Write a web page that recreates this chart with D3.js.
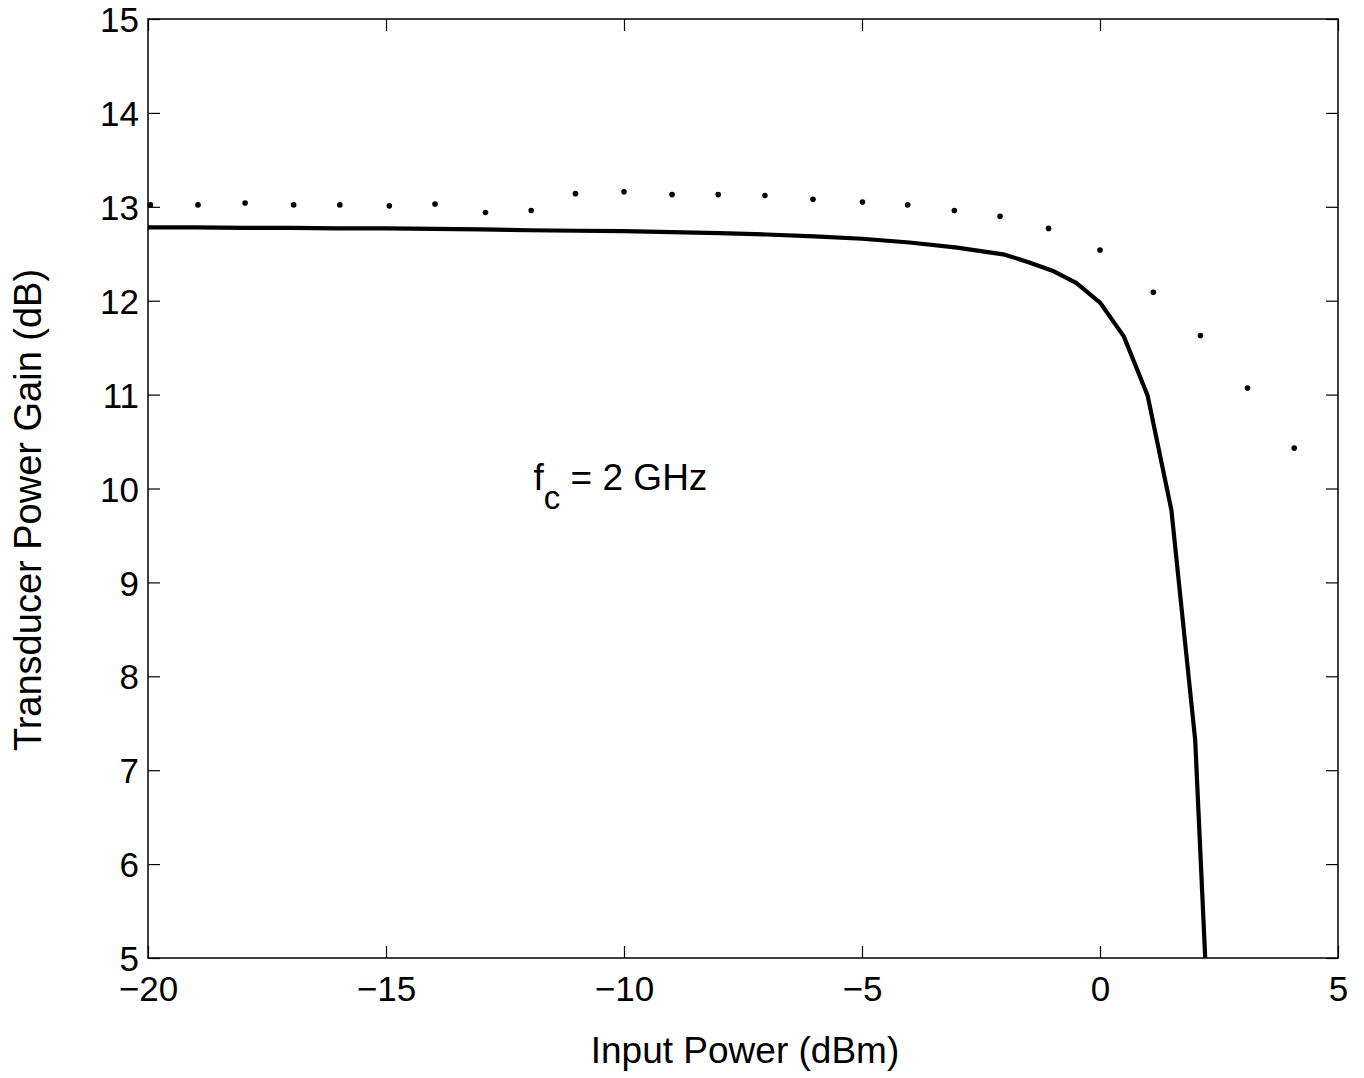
<!DOCTYPE html>
<html>
<head>
<meta charset="utf-8">
<script src="https://cdn.jsdelivr.net/npm/d3@7"></script>
<style>
  body { margin: 0; background: #fff; }
  svg text { font-family: "Liberation Sans", Arial, sans-serif; fill: #000; }
</style>
</head>
<body>
<svg id="chart" width="1364" height="1078"></svg>
<script>
// measured points (dots)
let measuredX = [-19.95, -18.95, -17.96, -16.94, -15.97, -14.93, -13.97, -12.91, -11.95, -11.02,
  -10.0, -8.99, -8.02, -7.04, -6.03, -4.99, -4.04, -3.06, -2.1, -1.08, 0.0, 1.12, 2.11, 3.1, 4.08];
let measuredGain = [13.02, 13.02, 13.04, 13.02, 13.02, 13.01, 13.03, 12.94, 12.96, 13.14,
  13.16, 13.13, 13.13, 13.12, 13.08, 13.05, 13.02, 12.96, 12.9, 12.77, 12.54, 12.09, 11.63, 11.07, 10.43];

// simulated curve (solid)
let simX = [-20, -19, -18, -17, -16, -15, -14, -13, -12, -11, -10, -9, -8, -7, -6, -5, -4, -3, -2,
  -1.5, -1, -0.5, 0, 0.5, 1.0, 1.5, 2.0, 2.5];
let simGain = [12.78, 12.78, 12.775, 12.775, 12.77, 12.77, 12.765, 12.76, 12.75, 12.745, 12.74, 12.73,
  12.72, 12.705, 12.685, 12.66, 12.62, 12.565, 12.49, 12.41, 12.32, 12.19, 11.98, 11.62, 10.99, 9.77, 7.32, 1.8];

let xTicks = [-20, -15, -10, -5, 0, 5];
let yTicks = [5, 6, 7, 8, 9, 10, 11, 12, 13, 14, 15];

let svg = d3.select("#chart");
let plotLeft = 148, plotRight = 1338, plotTop = 19, plotBottom = 958;
let tickLen = 12;
let tickFont = 35;
let labelFont = 37;

let x = d3.scaleLinear().domain([-20, 5]).range([plotLeft, plotRight]);
let y = d3.scaleLinear().domain([5, 15]).range([plotBottom, plotTop]);

let fmt = d => String(d).replace("-", "\u2212");

// clip region
svg.append("clipPath").attr("id", "plotClip")
  .append("rect")
  .attr("x", plotLeft).attr("y", plotTop)
  .attr("width", plotRight - plotLeft).attr("height", plotBottom - plotTop);

// axes: bottom + left with labels, top + right mirrored ticks
let styleAxis = function(g) {
  g.select(".domain").remove();
  g.selectAll(".tick line").attr("stroke", "#000").attr("stroke-width", 1.2);
  g.selectAll("text").style("font-size", tickFont + "px");
};

svg.append("g")
  .attr("transform", "translate(0," + plotBottom + ")")
  .call(d3.axisBottom(x).tickValues(xTicks).tickSize(-tickLen).tickPadding(18).tickFormat(fmt))
  .call(styleAxis);

svg.append("g")
  .attr("transform", "translate(" + plotLeft + ",0)")
  .call(d3.axisLeft(y).tickValues(yTicks).tickSize(-tickLen).tickPadding(9).tickFormat(fmt))
  .call(styleAxis)
  .selectAll("text").attr("dy", "0.36em");

svg.append("g")
  .attr("transform", "translate(0," + plotTop + ")")
  .call(d3.axisTop(x).tickValues(xTicks).tickSize(-tickLen).tickFormat(""))
  .call(styleAxis);

svg.append("g")
  .attr("transform", "translate(" + plotRight + ",0)")
  .call(d3.axisRight(y).tickValues(yTicks).tickSize(-tickLen).tickFormat(""))
  .call(styleAxis);

// box
svg.append("rect")
  .attr("x", plotLeft).attr("y", plotTop)
  .attr("width", plotRight - plotLeft).attr("height", plotBottom - plotTop)
  .attr("fill", "none").attr("stroke", "#000").attr("stroke-width", 1.5);

// solid curve
let simData = simX.map((v, i) => [v, simGain[i]]);
svg.append("path")
  .datum(simData)
  .attr("clip-path", "url(#plotClip)")
  .attr("d", d3.line().x(d => x(d[0])).y(d => y(d[1])))
  .attr("fill", "none")
  .attr("stroke", "#000")
  .attr("stroke-width", 4.2)
  .attr("stroke-linejoin", "round");

// dots
let measData = measuredX.map((v, i) => [v, measuredGain[i]]);
svg.selectAll(".dot")
  .data(measData)
  .enter()
  .append("circle")
  .attr("cx", d => x(d[0]))
  .attr("cy", d => y(d[1]))
  .attr("r", 2.8)
  .attr("fill", "#000");

// annotation
let note = svg.append("text")
  .attr("x", x(-11.9))
  .attr("y", y(10) + 1)
  .style("font-size", labelFont + "px");
note.append("tspan").text("f");
note.append("tspan").attr("dy", 19).style("font-size", "33px").text("c");
note.append("tspan").attr("dy", -19).text(" = 2 GHz");

// axis titles
svg.append("text")
  .attr("x", 745)
  .attr("y", 1063)
  .attr("text-anchor", "middle")
  .style("font-size", labelFont + "px")
  .text("Input Power (dBm)");

svg.append("text")
  .attr("transform", "translate(41,510) rotate(-90)")
  .attr("text-anchor", "middle")
  .style("font-size", "38px")
  .text("Transducer Power Gain (dB)");
</script>
</body>
</html>
